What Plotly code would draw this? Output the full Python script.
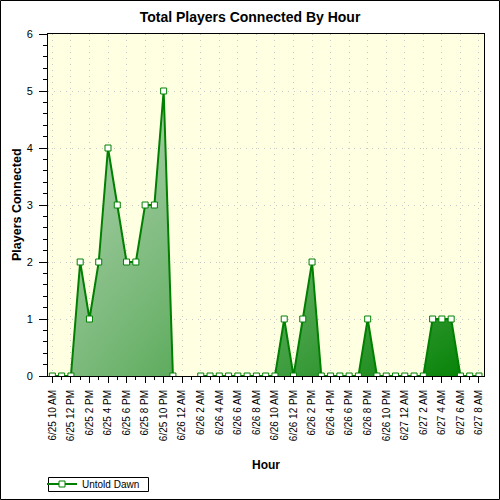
import plotly.graph_objects as go

# ---- data ----
hour_labels = [
    "6/25 10 AM", "6/25 11 AM", "6/25 12 PM", "6/25 1 PM", "6/25 2 PM", "6/25 3 PM",
    "6/25 4 PM", "6/25 5 PM", "6/25 6 PM", "6/25 7 PM", "6/25 8 PM", "6/25 9 PM",
    "6/25 10 PM", "6/25 11 PM", "6/26 12 AM", "6/26 1 AM", "6/26 2 AM", "6/26 3 AM",
    "6/26 4 AM", "6/26 5 AM", "6/26 6 AM", "6/26 7 AM", "6/26 8 AM", "6/26 9 AM",
    "6/26 10 AM", "6/26 11 AM", "6/26 12 PM", "6/26 1 PM", "6/26 2 PM", "6/26 3 PM",
    "6/26 4 PM", "6/26 5 PM", "6/26 6 PM", "6/26 7 PM", "6/26 8 PM", "6/26 9 PM",
    "6/26 10 PM", "6/26 11 PM", "6/27 12 AM", "6/27 1 AM", "6/27 2 AM", "6/27 3 AM",
    "6/27 4 AM", "6/27 5 AM", "6/27 6 AM", "6/27 7 AM", "6/27 8 AM",
]
players = [0, 0, 0, 2, 1, 2, 4, 3, 2, 2, 3, 3, 5, 0, None, None,
           0, 0, 0, 0, 0, 0, 0, 0, 0, 1, 0, 1, 2, 0, 0, 0, 0, 0, 1,
           0, 0, 0, 0, 0, 0, 1, 1, 1, 0, 0, 0]
tick_labels = hour_labels[::2]
series_name = "Untold Dawn"

x_idx = list(range(len(hour_labels)))
tick_idx = x_idx[::2]
x_range = [-0.47, 46.54]

GREEN = "#008000"
FONT = "Liberation Sans"

fig = go.Figure()
# gradient area (horizontal component)
fig.add_trace(go.Scatter(
    x=x_idx, y=players, mode="none", fill="tozeroy", connectgaps=False,
    fillgradient=dict(type="horizontal", start=x_range[0], stop=x_range[1],
                      colorscale=[[0, "#83bd83"], [1, GREEN]]),
    showlegend=False, hoverinfo="skip"))
# lightening toward the top (vertical component)
fig.add_trace(go.Scatter(
    x=x_idx, y=players, mode="none", fill="tozeroy", connectgaps=False,
    fillgradient=dict(type="vertical", start=0, stop=6,
                      colorscale=[[0, "rgba(212,227,212,0)"], [1, "rgba(212,227,212,0.7)"]]),
    showlegend=False, hoverinfo="skip"))
# line + markers
fig.add_trace(go.Scatter(
    x=x_idx, y=players, mode="lines+markers", name=series_name, connectgaps=False,
    line=dict(color=GREEN, width=2),
    marker=dict(symbol="square", size=6, color="white", line=dict(color=GREEN, width=1))))

grid = dict(showgrid=True, gridcolor="#c8c8c8", griddash="1px,5px", gridwidth=1)

fig.update_layout(
    width=500, height=500,
    margin=dict(l=48, r=16, t=34, b=124, pad=0, autoexpand=False),
    paper_bgcolor="white", plot_bgcolor="#FFFFE2",
    font=dict(family=FONT, color="black", size=11),
    title=dict(text="Total Players Connected By Hour", x=0.5, xref="container",
               y=1 - 17 / 500, yref="container", yanchor="middle", xanchor="center",
               font=dict(size=14, weight="bold", family=FONT, color="black")),
    xaxis=dict(range=x_range, tickmode="array", tickvals=tick_idx, ticktext=tick_labels,
               tickangle=-90, tickfont=dict(size=10), ticks="outside", ticklen=6,
               ticklabelstandoff=3, automargin=True,
               tickcolor="black", showline=True, linecolor="black", linewidth=1, mirror=True,
               zeroline=False,
               minor=dict(tickmode="linear", tick0=0, dtick=1, ticks="outside", ticklen=3,
                          tickcolor="black", showgrid=False),
               title=dict(text="Hour", standoff=20, font=dict(size=12, weight="bold")),
               **grid),
    yaxis=dict(range=[0, 6], dtick=1, tick0=0, ticks="outside", ticklen=8, tickcolor="black",
               tickfont=dict(size=11), ticklabelstandoff=4, automargin=True,
               showline=True, linecolor="black", linewidth=1, mirror=True, zeroline=False,
               minor=dict(tickmode="linear", tick0=0, dtick=0.2, ticks="outside", ticklen=4,
                          tickcolor="black", showgrid=False),
               **grid),
    xaxis2=dict(overlaying="x", anchor="y", side="top", range=x_range, tickmode="linear",
                tick0=0, dtick=1, ticks="inside", ticklen=4, tickcolor="black",
                showticklabels=False, showgrid=False, showline=False, zeroline=False),
    yaxis2=dict(overlaying="y", anchor="x", side="right", range=[0, 6], tickmode="linear",
                tick0=0, dtick=0.2, ticks="inside", ticklen=4, tickcolor="black",
                showticklabels=False, showgrid=False, showline=False, zeroline=False),
    legend=dict(xref="container", yref="container", x=42 / 500, y=1 - 484 / 500,
                xanchor="left", yanchor="middle",
                borderwidth=0, bgcolor="rgba(0,0,0,0)",
                font=dict(size=10, family=FONT, color="black")),
    showlegend=True,
)

# y-axis title
fig.add_annotation(text="Players Connected", textangle=-90, showarrow=False,
                   xref="paper", yref="paper", x=(17 - 48) / 436, y=0.5,
                   xanchor="center", yanchor="middle",
                   font=dict(size=12.5, weight="bold", family=FONT, color="black"))

# legend frame
fig.add_shape(type="rect", xref="paper", yref="paper",
              x0=(48.5 - 48) / 436, x1=(148.5 - 48) / 436,
              y0=(376 - 491.5) / 342, y1=(376 - 477.5) / 342,
              line=dict(color="black", width=1), fillcolor="white", layer="below")
# outer frame around the whole image
fig.add_shape(type="rect", xref="paper", yref="paper",
              x0=(0.5 - 48) / 436, x1=(499.5 - 48) / 436,
              y0=(376 - 499.5) / 342, y1=(376 - 0.5) / 342,
              line=dict(color="black", width=1), fillcolor="rgba(0,0,0,0)", layer="above")

fig.write_html("out.html")
